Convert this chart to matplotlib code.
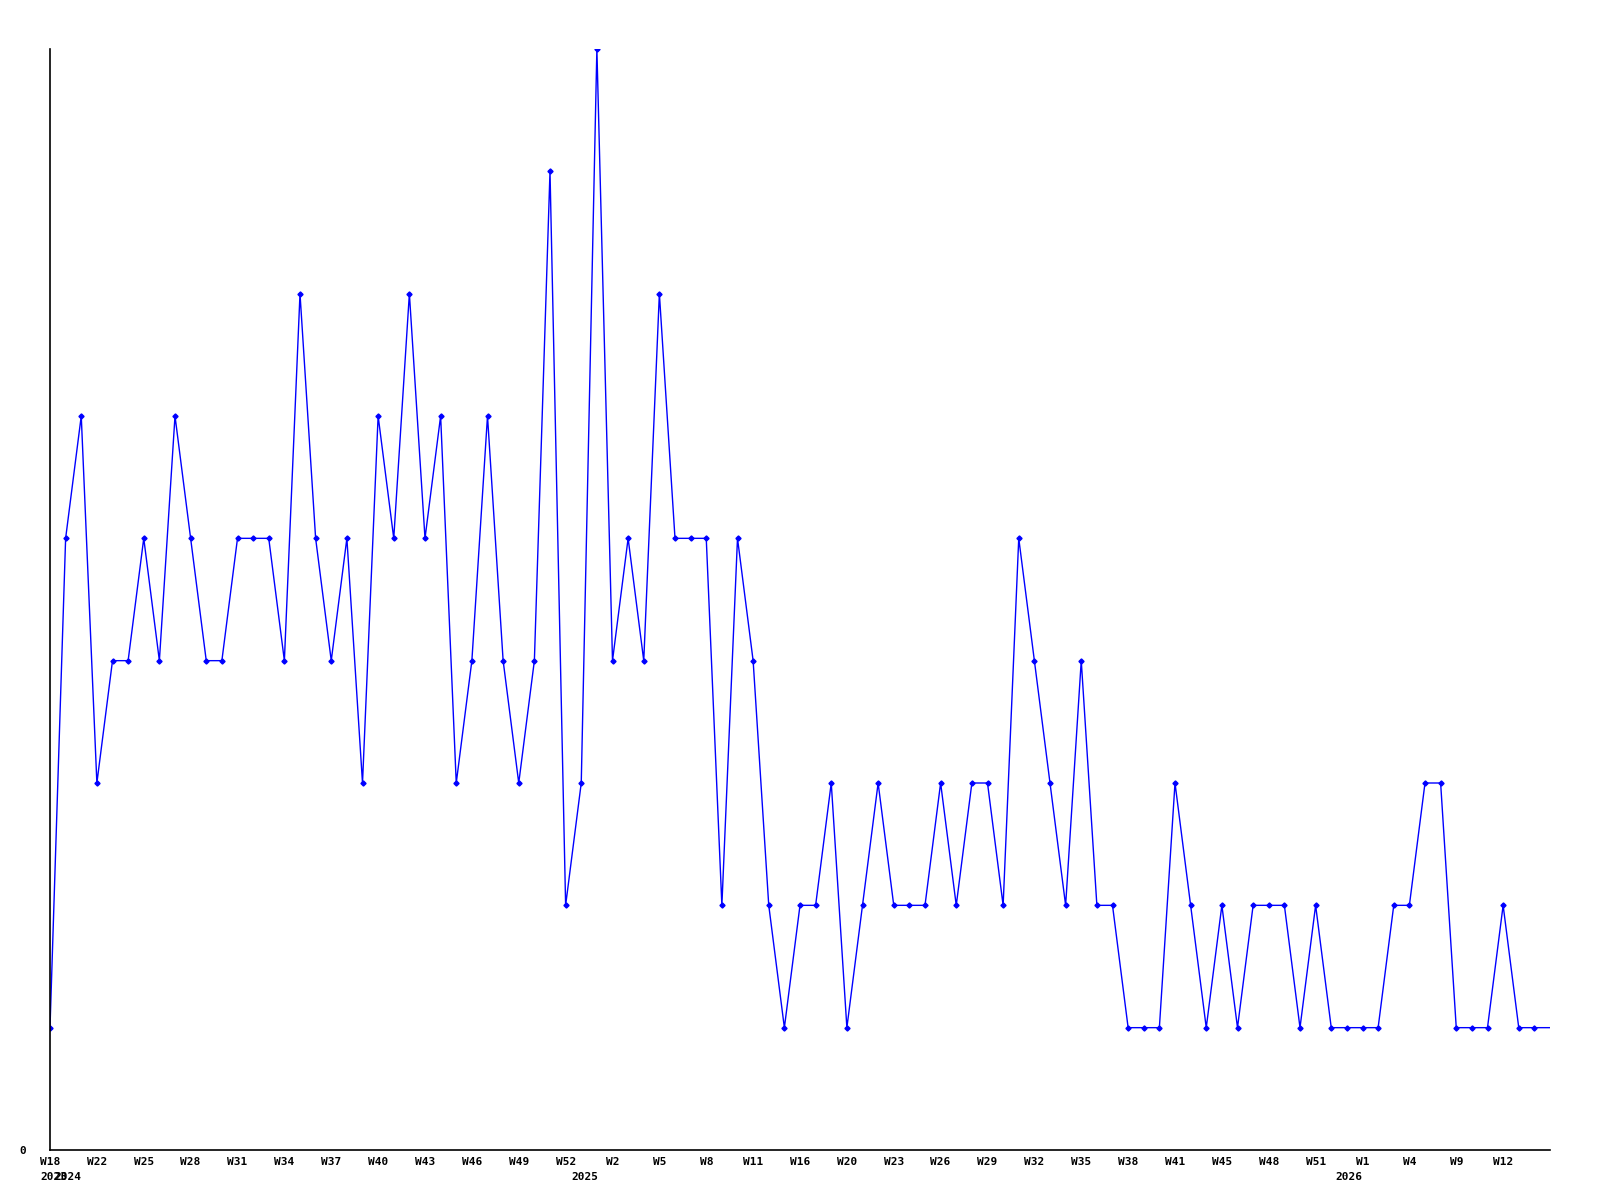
import matplotlib.pyplot as plt

# Weekly counts, one point per week
values = [1, 5, 6, 3, 4, 4, 5, 4, 6, 5,
          4, 4, 5, 5, 5, 4, 7, 5, 4, 5,
          3, 6, 5, 7, 5, 6, 3, 4, 6, 4,
          3, 4, 8, 2, 3, 9, 4, 5, 4, 7,
          5, 5, 5, 2, 5, 4, 2, 1, 2, 2,
          3, 1, 2, 3, 2, 2, 2, 3, 2, 3,
          3, 2, 5, 4, 3, 2, 4, 2, 2, 1,
          1, 1, 3, 2, 1, 2, 1, 2, 2, 2,
          1, 2, 1, 1, 1, 1, 2, 2, 3, 3,
          1, 1, 1, 2, 1, 1, 1]

# Week tick labels (every third point)
tick_pos = [0, 3, 6, 9, 12, 15, 18, 21, 24, 27, 30, 33, 36, 39, 42, 45,
            48, 51, 54, 57, 60, 63, 66, 69, 72, 75, 78, 81, 84, 87, 90, 93]
tick_labels = ['W18', 'W22', 'W25', 'W28', 'W31', 'W34', 'W37', 'W40',
               'W43', 'W46', 'W49', 'W52', 'W2', 'W5', 'W8', 'W11',
               'W16', 'W20', 'W23', 'W26', 'W29', 'W32', 'W35', 'W38',
               'W41', 'W45', 'W48', 'W51', 'W1', 'W4', 'W9', 'W12']

# Year labels and where they sit along the x axis
years = ['2023', '2024', '2025', '2026']
year_pos = [0.25, 1.15, 34.2, 83.1]

mono = {'family': 'DejaVu Sans Mono', 'weight': 'bold', 'size': 8}

fig = plt.figure(figsize=(16, 12), dpi=100)
ax = fig.add_axes([50 / 1600, 1 - 1150 / 1200, 1500 / 1600, 1101 / 1200])

x = list(range(len(values)))
ax.plot(x, values, color='#0000ff', lw=1.0, marker='D', markersize=2.6,
        markevery=list(range(len(values) - 1)))

ax.set_xlim(0, len(values) - 1)
ax.set_ylim(0, 9)

ax.set_xticks(tick_pos)
ax.set_xticklabels(tick_labels, fontdict=mono)
ax.set_yticks([0])
ax.set_yticklabels(['0'], fontdict=mono)
ax.tick_params(axis='x', length=0, pad=5)
ax.tick_params(axis='y', length=0, pad=17)

for yr, xp in zip(years, year_pos):
    ax.text(xp, -0.02, yr, transform=ax.get_xaxis_transform(),
            ha='center', va='top', fontdict=mono)

for side in ['top', 'right']:
    ax.spines[side].set_visible(False)
ax.spines['left'].set_linewidth(1.2)
ax.spines['bottom'].set_linewidth(1.2)

fig.savefig('out.png', dpi=100)
